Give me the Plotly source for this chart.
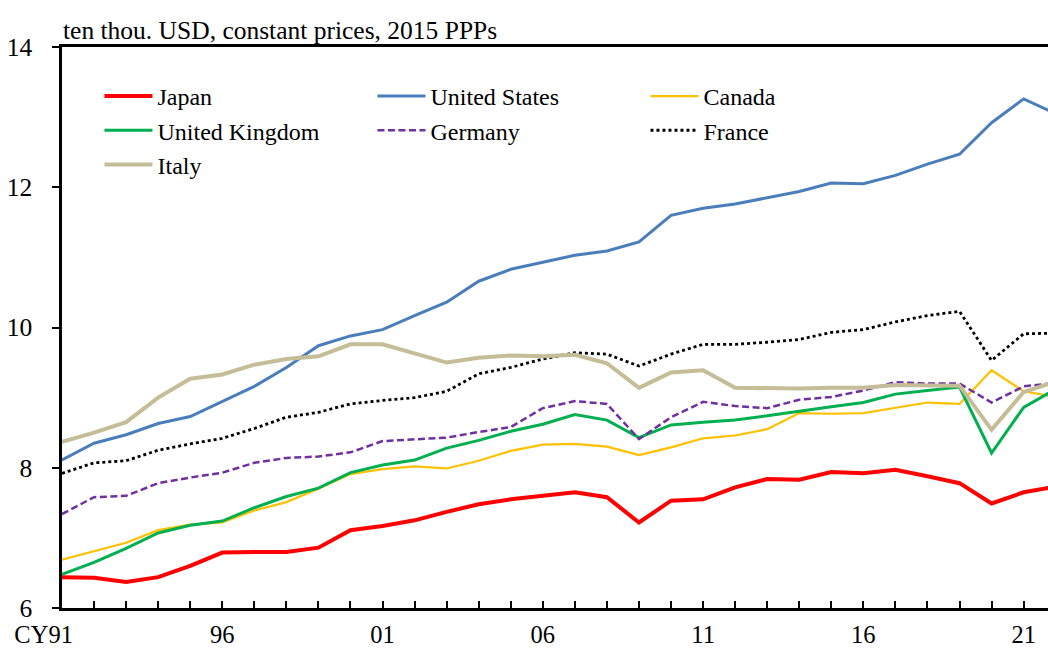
import plotly.graph_objects as go

years = list(range(1991, 2023))

japan = [6.44, 6.43, 6.37, 6.44, 6.60, 6.79, 6.80, 6.80, 6.86, 7.11, 7.17, 7.25, 7.37, 7.48, 7.55, 7.60,
         7.65, 7.58, 7.22, 7.53, 7.55, 7.72, 7.84, 7.83, 7.94, 7.92, 7.97, 7.88, 7.78, 7.49, 7.65, 7.73]
united_states = [8.11, 8.35, 8.47, 8.63, 8.73, 8.95, 9.16, 9.43, 9.74, 9.88, 9.97, 10.17, 10.36, 10.66, 10.83, 10.93,
                 11.03, 11.09, 11.22, 11.60, 11.70, 11.76, 11.85, 11.94, 12.06, 12.05, 12.17, 12.33, 12.47, 12.92, 13.26, 13.05]
canada = [6.69, 6.81, 6.93, 7.11, 7.19, 7.22, 7.39, 7.51, 7.70, 7.91, 7.98, 8.02, 7.99, 8.10, 8.24, 8.33,
          8.34, 8.30, 8.18, 8.29, 8.42, 8.46, 8.55, 8.78, 8.77, 8.78, 8.85, 8.93, 8.91, 9.39, 9.09, 9.01]
united_kingdom = [6.48, 6.65, 6.85, 7.07, 7.18, 7.24, 7.43, 7.59, 7.71, 7.93, 8.04, 8.11, 8.28, 8.39, 8.52, 8.62,
                  8.76, 8.68, 8.43, 8.61, 8.65, 8.68, 8.74, 8.81, 8.87, 8.93, 9.05, 9.10, 9.15, 8.21, 8.86, 9.12]
germany = [7.34, 7.58, 7.60, 7.78, 7.86, 7.93, 8.07, 8.14, 8.16, 8.22, 8.38, 8.40, 8.43, 8.51, 8.58, 8.85,
           8.95, 8.91, 8.41, 8.72, 8.94, 8.88, 8.85, 8.97, 9.01, 9.10, 9.22, 9.20, 9.20, 8.93, 9.16, 9.21]
france = [7.92, 8.07, 8.10, 8.25, 8.34, 8.42, 8.56, 8.72, 8.79, 8.91, 8.96, 9.00, 9.09, 9.34, 9.43, 9.55,
          9.64, 9.62, 9.45, 9.62, 9.76, 9.76, 9.79, 9.83, 9.93, 9.97, 10.08, 10.17, 10.23, 9.53, 9.91, 9.92]
italy = [8.37, 8.50, 8.65, 9.00, 9.27, 9.33, 9.47, 9.55, 9.59, 9.76, 9.76, 9.63, 9.50, 9.57, 9.60, 9.59,
         9.61, 9.49, 9.14, 9.36, 9.39, 9.14, 9.13, 9.13, 9.14, 9.14, 9.18, 9.18, 9.17, 8.54, 9.08, 9.23]

series_names = ["Japan", "United States", "Canada", "United Kingdom", "Germany", "France", "Italy"]
series_values = [japan, united_states, canada, united_kingdom, germany, france, italy]

tick_years = list(range(1991, 2022))
tick_labels = {1991: "CY91" + "\u00a0" * 6, 1996: "96", 2001: "01", 2006: "06", 2011: "11", 2016: "16", 2021: "21"}
y_ticks = [6, 8, 10, 12, 14]

styles = {
    "Japan": dict(color="#FF0000", width=4),
    "United States": dict(color="#4A7EBB", width=3),
    "Canada": dict(color="#FFC000", width=2.2),
    "United Kingdom": dict(color="#00B050", width=3),
    "Germany": dict(color="#7030A0", width=2.5, dash="7px,3.5px"),
    "France": dict(color="#000000", width=2.8, dash="3px,3px"),
    "Italy": dict(color="#C4BD97", width=4),
}

FONT = "Liberation Serif, Times New Roman, serif"
FS = 25.5

fig = go.Figure()
for name, vals in zip(series_names, series_values):
    fig.add_trace(go.Scatter(x=years, y=vals, mode="lines", name=name, line=styles[name]))

fig.update_layout(
    width=1048, height=649,
    margin=dict(l=62, r=0, t=47, b=41),
    paper_bgcolor="white", plot_bgcolor="white",
    font=dict(family=FONT, size=FS, color="black"),
    showlegend=True,
    legend=dict(
        orientation="h", x=0.038, xanchor="left", y=0.952, yanchor="top",
        entrywidth=210, entrywidthmode="pixels", itemwidth=48,
        font=dict(family=FONT, size=24, color="black"),
        bgcolor="rgba(0,0,0,0)", borderwidth=0, tracegroupgap=0,
    ),
    xaxis=dict(
        range=[1991, 2021.76], tickmode="array", tickvals=tick_years,
        ticktext=[tick_labels.get(y, "") for y in tick_years],
        ticks="inside", ticklen=7, tickwidth=2, tickcolor="black",
        showline=True, linecolor="black", linewidth=2.5, mirror=True,
        showgrid=False, zeroline=False, automargin=False,
        ticklabelstandoff=3, tickfont=dict(family=FONT, size=24.5, color="black"),
    ),
    yaxis=dict(
        range=[6, 14], tickvals=y_ticks,
        ticks="outside", ticklen=7, tickwidth=2, tickcolor="black",
        showline=True, linecolor="black", linewidth=2.5,
        showgrid=False, zeroline=False, automargin=False,
        ticklabelstandoff=15,
    ),
    annotations=[dict(
        text="ten thou. USD, constant prices, 2015 PPPs", xref="paper", yref="paper",
        x=0, y=1, xanchor="left", yanchor="bottom", showarrow=False,
        font=dict(family=FONT, size=FS, color="black"), xshift=-1,
    )],
)

fig.write_html(
    "out.html",
    config={"displayModeBar": False},
    post_script="document.body.style.margin='0';document.body.style.padding='0';document.body.style.overflow='hidden';",
)
